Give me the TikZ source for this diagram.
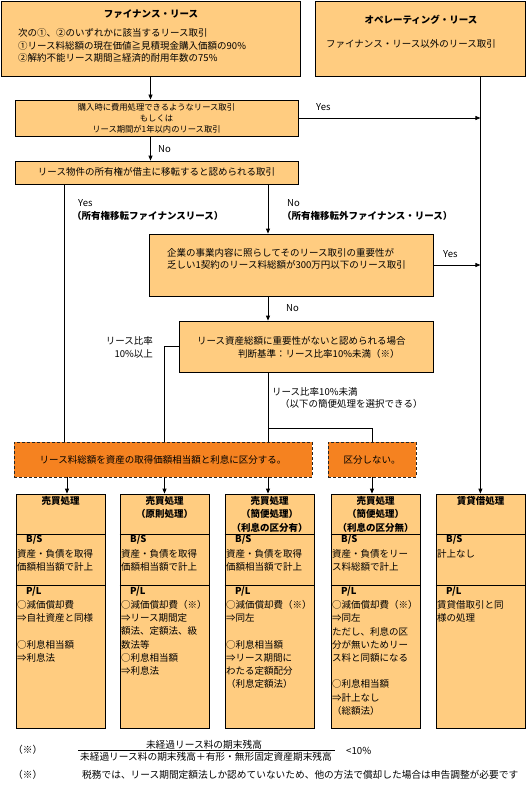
\documentclass[tikz,border=0pt]{standalone}
\usepackage{fontspec}
\setmainfont{Noto Sans CJK JP}
\usetikzlibrary{arrows.meta,fit}
\definecolor{lor}{RGB}{255,204,128}
\definecolor{dor}{RGB}{245,130,32}
\begin{document}
\begin{tikzpicture}[x=1pt,y=-1pt,
  box/.style={draw, line width=0.8pt, fill=lor, inner sep=0pt},
  dbox/.style={draw=black!85, line width=0.8pt, dash pattern=on 3pt off 2pt, fill=dor, inner sep=0pt},
  txt/.style={inner sep=0pt, font=\fontsize{9.5}{11}\selectfont},
  ftxt/.style={inner sep=0pt, font=\fontsize{9.7}{11}\selectfont},
  btxt/.style={inner sep=0pt, font=\fontsize{9.5}{11}\selectfont\bfseries},
  stxt/.style={inner sep=0pt, font=\fontsize{8.3}{10}\selectfont},
  ln/.style={line width=0.8pt},
  arr/.style={ln, -{Triangle[length=5pt,width=4pt]}}]
\useasboundingbox[fill=white] (0,0) rectangle (526,789);
% boxes
\node[box, fit={(1,1)(300,76)}] (A) {};
\node[box, fit={(315,1)(525,76)}] (B) {};
\node[box, fit={(15,100)(298,136)}] (C) {};
\node[box, fit={(15,161)(298,184)}] (D) {};
\node[box, fit={(149,234)(433,296)}] (F) {};
\node[box, fit={(179,321)(433,372)}] (G) {};
\node[dbox, fit={(14,442)(312,477)}] (E) {};
\node[dbox, fit={(328,442)(416,477)}] (H) {};
\foreach \n/\l in {1/16,2/120,3/225,4/331,5/436}{
  \node[box, fit={(\l,494)(\l+89,728)}] (R\n) {};
  \draw[ln] (R\n.west |- 0,534) -- (R\n.east |- 0,534);
  \draw[ln] (R\n.west |- 0,585) -- (R\n.east |- 0,585);
}
% connectors
\coordinate (trunk) at ([xshift=-45pt]B.south east);
\coordinate (jn) at (268,428);
\draw[arr] (A.south) -- (A.south |- C.north);
\draw[arr] (C.east) -- (trunk |- C.east);
\draw[arr] (trunk) -- (trunk |- R5.north);
\draw[arr] (A.south |- C.south) -- (A.south |- D.north);
\draw[ln] (64,0 |- D.south) -- (64,0 |- E.north);
\draw[arr] (268,0 |- D.south) -- (268,0 |- F.north);
\draw[arr] (F.east) -- (trunk |- F.east);
\draw[arr] (268,0 |- F.south) -- (268,0 |- G.north);
\draw[ln] (G.west) -| (164,0 |- E.north);
\draw[ln] (268,0 |- G.south) -- (268,0 |- E.north);
\draw[ln] (jn) -| (H.north);
\draw[arr] (67,0 |- E.south) -- (67,0 |- R1.north);
\draw[arr] (164.5,0 |- E.south) -- (164.5,0 |- R2.north);
\draw[arr] (268,0 |- E.south) -- (268,0 |- R3.north);
\draw[arr] (H.south) -- (H.south |- R4.north);
% box A / B
\node[btxt] (At) at (151,14) {ファイナンス・リース};
\node[txt,anchor=west] (A1) at (18,33) {次の①、②のいずれかに該当するリース取引};
\node[txt,anchor=west] (A2) at (18,46) {①リース料総額の現在価値≧見積現金購入価額の90\%};
\node[txt,anchor=west] (A3) at (18,58) {②解約不能リース期間≧経済的耐用年数の75\%};
\node[btxt] (Bt) at (421,20) {オペレーティング・リース};
\node[txt] (B1) at (411,44) {ファイナンス・リース以外のリース取引};
% box C, D
\node[stxt] (C1) at (156.5,107) {購入時に費用処理できるようなリース取引};
\node[stxt] (C2) at (156.5,118) {もしくは};
\node[stxt] (C3) at (156.5,129) {リース期間が1年以内のリース取引};
\node[txt,anchor=west] (y1) at (316,107) {Yes};
\node[txt,anchor=west] (n1) at (158,149) {No};
\node[txt] (D1) at (156.5,172) {リース物件の所有権が借主に移転すると認められる取引};
\node[txt,anchor=west] (y2) at (78,203) {Yes};
\node[btxt,anchor=west] (l2) at (72,216) {（所有権移転ファイナンスリース）};
\node[txt,anchor=west] (n2) at (287,203) {No};
\node[btxt,anchor=west] (l3) at (282,216) {（所有権移転外ファイナンス・リース）};
% box F, G
\node[txt,anchor=west] (F1) at (167,253) {企業の事業内容に照らしてそのリース取引の重要性が};
\node[txt,anchor=west] (F2) at (167,265) {乏しい1契約のリース料総額が300万円以下のリース取引};
\node[txt,anchor=west] (y3) at (443,254) {Yes};
\node[txt,anchor=west] (n3) at (286,308) {No};
\node[txt,anchor=west] (G1) at (197,341) {リース資産総額に重要性がないと認められる場合};
\node[txt,anchor=west] (G2) at (238,354) {判断基準：リース比率10\%未満（※）};
\node[txt,anchor=east] (r1) at (153,341) {リース比率};
\node[txt,anchor=east] (r2) at (153,354) {10\%以上};
\node[txt,anchor=west] (r3) at (272,392) {リース比率10\%未満};
\node[txt,anchor=west] (r4) at (280,404) {（以下の簡便処理を選択できる）};
\node[txt] (E1) at (E.center) {リース料総額を資産の取得価額相当額と利息に区分する。};
\node[txt] (H1) at (H.center) {区分しない。};
% bottom boxes: titles
\node[btxt] (t1) at (R1.north |- 0,501) {売買処理};
\node[btxt] (t2a) at (R2.north |- 0,501) {売買処理};
\node[btxt] (t2b) at (R2.north |- 0,514) {（原則処理）};
\node[btxt] (t3a) at (R3.north |- 0,501) {売買処理};
\node[btxt] (t3b) at (R3.north |- 0,514) {（簡便処理）};
\node[btxt] (t3c) at (R3.north |- 0,528) {（利息の区分有）};
\node[btxt] (t4a) at (R4.north |- 0,501) {売買処理};
\node[btxt] (t4b) at (R4.north |- 0,514) {（簡便処理）};
\node[btxt] (t4c) at (R4.north |- 0,528) {（利息の区分無）};
\node[btxt] (t5) at (R5.north |- 0,501) {賃貸借処理};
\foreach \n/\l in {1/16,2/120,3/225,4/331,5/436}{
  \node[btxt,anchor=west] (bs\n) at (\l+10,540) {B/S};
  \node[btxt,anchor=west] (pl\n) at (\l+10,592) {P/L};
}
% B/S contents
\foreach \n/\l in {1/16,2/120,3/225}{
  \foreach \t [count=\i from 0] in {資産・負債を取得,価額相当額で計上}
    \node[txt,anchor=west] (b\n-\i) at (\l+1,554+13*\i) {\t};
}
\foreach \t [count=\i from 0] in {資産・負債をリー,ス料総額で計上}
  \node[txt,anchor=west] (b4-\i) at (332,554+13*\i) {\t};
\node[txt,anchor=west] (b5-0) at (437,554) {計上なし};
% P/L contents
\foreach \t [count=\i from 0] in {○減価償却費,⇒自社資産と同様,,○利息相当額,⇒利息法}
  \node[txt,anchor=west] (p1-\i) at (17,605+13.2*\i) {\t};
\foreach \t [count=\i from 0] in {○減価償却費（※）,⇒リース期間定,額法、定額法、級,数法等,○利息相当額,⇒利息法}
  \node[txt,anchor=west] (p2-\i) at (121,605+13.2*\i) {\t};
\foreach \t [count=\i from 0] in {○減価償却費（※）,⇒同左,,○利息相当額,⇒リース期間に,わたる定額配分,（利息定額法）}
  \node[txt,anchor=west] (p3-\i) at (226,605+13.2*\i) {\t};
\foreach \t [count=\i from 0] in {○減価償却費（※）,⇒同左,ただし、利息の区,分が無いためリー,ス料と同額になる,,○利息相当額,⇒計上なし,（総額法）}
  \node[txt,anchor=west] (p4-\i) at (332,605+13.2*\i) {\t};
\foreach \t [count=\i from 0] in {賃貸借取引と同,様の処理}
  \node[txt,anchor=west] (p5-\i) at (437,605+13.2*\i) {\t};
% footer
\node[ftxt,anchor=west] (k1) at (13,750) {（※）};
\node[ftxt] (num) at (204,744.5) {未経過リース料の期末残高};
\node[ftxt] (den) at (206,757) {未経過リース料の期末残高＋有形・無形固定資産期末残高};
\coordinate (fb1) at (78,750);
\coordinate (fb2) at (335,750);
\draw[line width=0.7pt] (fb1) -- (fb2);
\node[ftxt,anchor=west] (lt) at (346,751) {<10\%};
\node[ftxt,anchor=west] (k2) at (13,775) {（※）};
\node[ftxt,anchor=west] (note) at (82,775) {税務では、リース期間定額法しか認めていないため、他の方法で償却した場合は申告調整が必要です};
\end{tikzpicture}
\end{document}
